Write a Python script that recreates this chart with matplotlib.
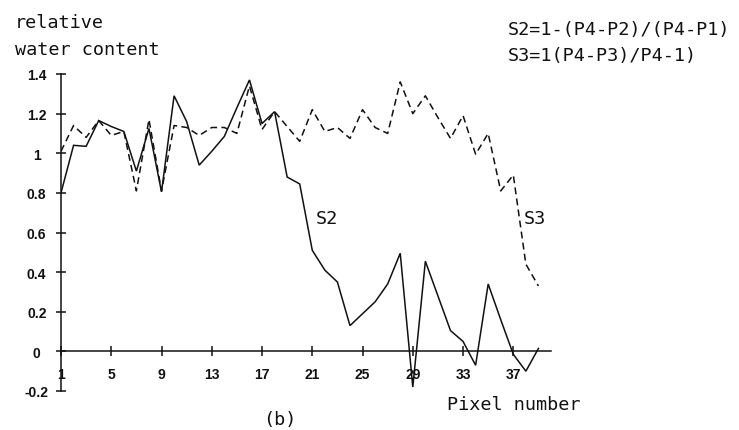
import matplotlib
matplotlib.use("Agg")
import matplotlib.pyplot as plt

# Pixel index along the transect
pixels = list(range(1, 40))

# Relative water content estimates
s2 = [0.80, 1.04, 1.035, 1.165, 1.135, 1.11, 0.91, 1.125, 0.805, 1.29,
      1.16, 0.94, 1.01, 1.085, 1.23, 1.37, 1.15, 1.21, 0.88, 0.845,
      0.51, 0.41, 0.35, 0.13, 0.19, 0.25, 0.34, 0.495, -0.18, 0.455,
      0.28, 0.105, 0.05, -0.07, 0.34, 0.16, -0.015, -0.10, 0.015]
s3 = [1.01, 1.14, 1.08, 1.165, 1.09, 1.11, 0.81, 1.17, 0.81, 1.14,
      1.13, 1.09, 1.13, 1.13, 1.10, 1.34, 1.12, 1.21, 1.135, 1.06,
      1.22, 1.11, 1.13, 1.075, 1.22, 1.13, 1.10, 1.36, 1.20, 1.29,
      1.18, 1.075, 1.19, 0.995, 1.10, 0.81, 0.89, 0.44, 0.33]

xticks = [1, 5, 9, 13, 17, 21, 25, 29, 33, 37]
yticks = [1.4, 1.2, 1.0, 0.8, 0.6, 0.4, 0.2, 0.0, -0.2]
ytick_labels = ["1.4", "1.2", "1", "0.8", "0.6", "0.4", "0.2", "0", "-0.2"]

W, H = 739, 431
fig = plt.figure(figsize=(W / 100, H / 100), dpi=100)
fig.patch.set_facecolor("white")

# axes box in pixel coordinates
left_px, right_px, top_px, bot_px = 61, 551, 75, 392
ax = fig.add_axes([left_px / W, (H - bot_px) / H,
                   (right_px - left_px) / W, (bot_px - top_px) / H])
ax.set_facecolor("white")

ink = "#111111"
ax.plot(pixels, s2, color=ink, lw=1.1, solid_joinstyle="miter")
ax.plot(pixels, s3, color=ink, lw=1.1, dashes=(4.5, 2.8))

ax.set_xlim(1, 40)
ax.set_ylim(-0.2, 1.4)

for side in ("top", "right"):
    ax.spines[side].set_visible(False)
ax.spines["bottom"].set_position(("data", 0))
for side in ("left", "bottom"):
    ax.spines[side].set_color(ink)
    ax.spines[side].set_linewidth(1.1)

tick_font = dict(family="Liberation Sans", weight="bold", size=10)
ax.set_xticks(xticks)
ax.set_xticklabels([str(v) for v in xticks], fontdict=tick_font)
ax.set_yticks(yticks)
ax.set_yticklabels(ytick_labels, fontdict=tick_font)
for lab in ax.get_yticklabels():
    lab.set_ha("center")

ax.tick_params(axis="both", direction="inout", length=7, width=1.1, color=ink,
               labelcolor=ink)
ax.tick_params(axis="x", pad=8)
ax.tick_params(axis="y", pad=14)

mono = dict(family="DejaVu Sans Mono", size=13.3, color=ink)

def ftext(x, y, s, **kw):
    fig.text(x / W, 1 - y / H, s, va="baseline", **{**mono, **kw})

ftext(15, 28, "relative")
ftext(15, 55, "water content")
ftext(508, 35, "S2=1-(P4-P2)/(P4-P1)")
ftext(508, 61, "S3=1(P4-P3)/P4-1)")
ftext(447, 410, "Pixel number")
ftext(263, 425, "(b)")

# curve labels placed in data coordinates
ax.text(21.3, 0.65, "S2", va="baseline", **mono)
ax.text(37.8, 0.65, "S3", va="baseline", **mono)

fig.savefig("out.png", dpi=100, facecolor="white")
